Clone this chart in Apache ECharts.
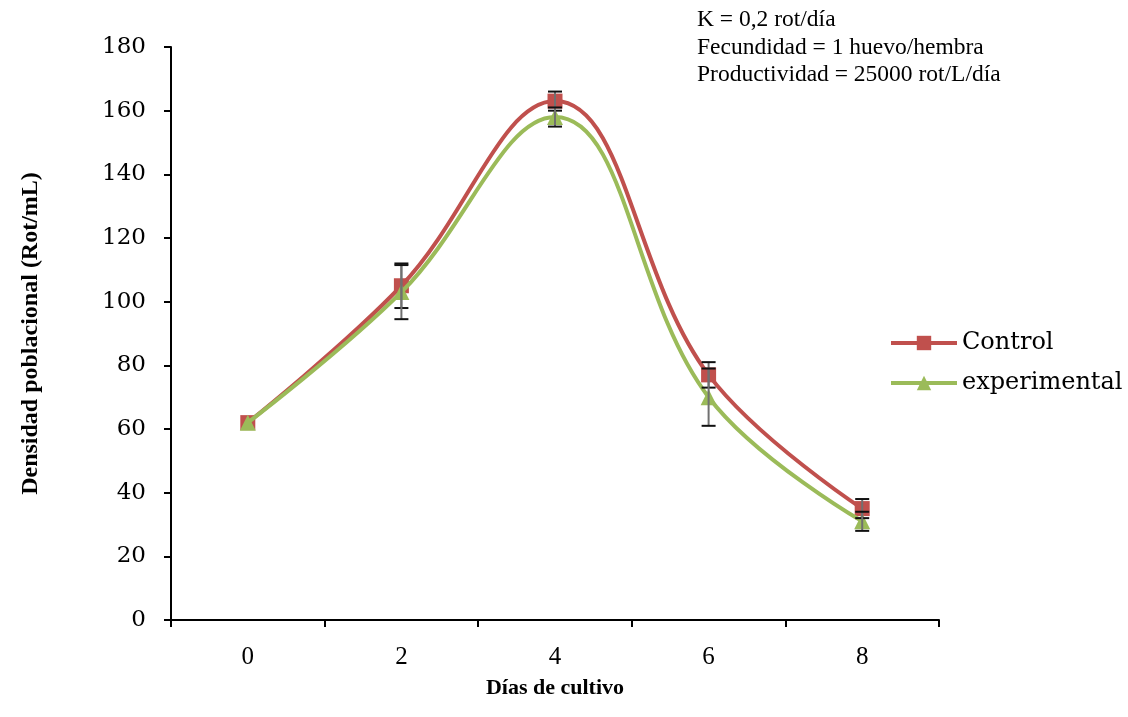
<!DOCTYPE html>
<html><head><meta charset="utf-8">
<script src="https://cdn.jsdelivr.net/npm/echarts@6/dist/echarts.min.js"></script>
<style>html,body{margin:0;padding:0;background:#fff}#c{width:1128px;height:717px}</style>
</head><body><div id="c"></div>
<script>
var categories = ['0', '2', '4', '6', '8'];
var controlValues = [62, 105, 163, 77, 35];
var controlErr = [0, 7, 3, 4, 3];
var expValues = [62, 103, 158, 70, 31];
var expErr = [0, 8.5, 3, 9, 3];
var yTicks = {min: 0, max: 180, interval: 20};
var notes = ['K = 0,2 rot/día', 'Fecundidad = 1 huevo/hembra', 'Productividad = 25000 rot/L/día'];

var serif = '"Liberation Serif", "Times New Roman", serif';
var wideSerif = '"DejaVu Serif", serif';
function errData(vals, errs) {
  var out = [];
  for (var i = 0; i < vals.length; i++) {
    if (errs[i] > 0) out.push([i, vals[i] - errs[i], vals[i] + errs[i]]);
  }
  return out;
}
function errRender(params, api) {
  var lo = api.coord([api.value(0), api.value(1)]);
  var hi = api.coord([api.value(0), api.value(2)]);
  var w = 7;
  return {
    type: 'group',
    children: [
      {type: 'line', shape: {x1: lo[0], y1: lo[1], x2: hi[0], y2: hi[1]}, style: {stroke: '#707070', lineWidth: 2}},
      {type: 'line', shape: {x1: lo[0] - w, y1: lo[1], x2: lo[0] + w, y2: lo[1]}, style: {stroke: '#111', lineWidth: 2}},
      {type: 'line', shape: {x1: hi[0] - w, y1: hi[1], x2: hi[0] + w, y2: hi[1]}, style: {stroke: '#111', lineWidth: 2}}
    ]
  };
}
var chart = echarts.init(document.getElementById('c'), null, {renderer: 'canvas'});
chart.setOption({
  animation: false,
  backgroundColor: '#fff',
  grid: {left: 171, right: 189, top: 47, bottom: 97, containLabel: false},
  xAxis: {
    type: 'category', data: categories, boundaryGap: true,
    name: 'Días de cultivo', nameLocation: 'middle', nameGap: 57,
    nameTextStyle: {fontFamily: serif, fontSize: 22, fontWeight: 'bold', color: '#000'},
    axisLine: {lineStyle: {color: '#000', width: 2}},
    axisTick: {show: true, interval: 0, length: 7, lineStyle: {color: '#000', width: 2}},
    axisLabel: {fontFamily: serif, fontSize: 25, color: '#000', margin: 25},
    splitLine: {show: false}
  },
  yAxis: {
    type: 'value', min: yTicks.min, max: yTicks.max, interval: yTicks.interval,
    name: 'Densidad poblacional (Rot/mL)', nameLocation: 'middle', nameGap: 128,
    nameTextStyle: {fontFamily: serif, fontSize: 24, fontWeight: 'bold', color: '#000'},
    axisLine: {show: true, lineStyle: {color: '#000', width: 2}},
    axisTick: {show: true, length: 7, lineStyle: {color: '#000', width: 2}},
    axisLabel: {fontFamily: wideSerif, fontSize: 23, color: '#000', margin: 25},
    splitLine: {show: false}
  },
  legend: {
    orient: 'vertical', left: 884, top: 326, itemWidth: 66, itemHeight: 18, itemGap: 16,
    lineStyle: {width: 4},
    textStyle: {fontFamily: wideSerif, fontSize: 24, color: '#000'},
    data: ['Control', 'experimental']
  },
  series: [
    {
      name: 'Control', type: 'line', data: controlValues, smooth: 0.4,
      symbol: 'rect', symbolSize: 15,
      lineStyle: {color: '#C0504D', width: 4},
      itemStyle: {color: '#C0504D'}, z: 3
    },
    {
      name: 'experimental', type: 'line', data: expValues, smooth: 0.4,
      symbol: 'triangle', symbolSize: 16,
      lineStyle: {color: '#9BBB59', width: 4},
      itemStyle: {color: '#9BBB59'}, z: 4
    },
    {type: 'custom', renderItem: errRender, data: errData(controlValues, controlErr), z: 5, silent: true},
    {type: 'custom', renderItem: errRender, data: errData(expValues, expErr), z: 5, silent: true}
  ],
  graphic: notes.map(function (t, i) {
    return {type: 'text', left: 697, top: 8 + i * 27.5,
      style: {text: t, font: '23.5px ' + serif, fill: '#000'}};
  })
});
</script></body></html>
